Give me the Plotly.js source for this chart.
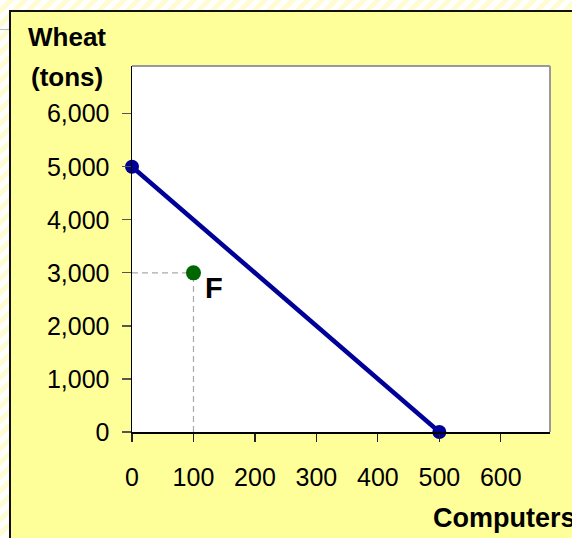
<!DOCTYPE html>
<html>
<head>
<meta charset="utf-8">
<script src="https://cdn.plot.ly/plotly-3.0.1.min.js"></script>
<style>
  html, body { margin: 0; padding: 0; width: 572px; height: 538px; overflow: hidden; }
  body {
    background: repeating-linear-gradient(135deg, #ffffff 0px, #ffffff 5px, #fffbd2 5px, #fffbd2 10px);
    position: relative;
  }
  #rule { position: absolute; left: 0; top: 29px; width: 9px; height: 1px; background: #bbbbbb; }
  #chart {
    position: absolute; left: 9px; top: 10px;
    width: 561px; height: 526px;
    border-left: 2px solid #111; border-top: 2px solid #111;
    background: #ffff99;
  }
</style>
</head>
<body>
<div id="rule"></div>
<div id="chart"></div>
<script>
// Production possibilities frontier
const computers = [0, 500];
const wheat = [5000, 0];

// Point F
const fComputers = [100];
const fWheat = [3000];
const fLabel = ["F"];

// Guide lines to point F
const guideHX = [0, 100];
const guideHY = [3000, 3000];
const guideVX = [100, 100];
const guideVY = [0, 3000];

const xTicks = [0, 100, 200, 300, 400, 500, 600];
const yTicks = [0, 1000, 2000, 3000, 4000, 5000, 6000];

const FONT = 'Arial, "Liberation Sans", sans-serif';

const traces = [
  { x: guideHX, y: guideHY, mode: 'lines', line: { color: '#aaaaaa', width: 1.2, dash: '6px,4px' }, hoverinfo: 'skip', showlegend: false, cliponaxis: false },
  { x: guideVX, y: guideVY, mode: 'lines', line: { color: '#aaaaaa', width: 1.2, dash: '6px,4px' }, hoverinfo: 'skip', showlegend: false, cliponaxis: false },
  { x: computers, y: wheat, mode: 'lines+markers', line: { color: '#000099', width: 4.5 },
    marker: { color: '#000099', size: 14 }, showlegend: false, cliponaxis: false },
  { x: fComputers, y: fWheat, mode: 'markers', marker: { color: '#006600', size: 15 }, showlegend: false, cliponaxis: false }
];

const layout = {
  width: 561, height: 526,
  margin: { l: 121, r: 22, t: 54, b: 106 },
  paper_bgcolor: '#ffff99',
  plot_bgcolor: '#ffffff',
  font: { family: FONT, color: '#000000', size: 25 },
  showlegend: false,
  xaxis: {
    range: [0, 680], tickvals: xTicks, ticktext: xTicks.map(String),
    showgrid: false, zeroline: false, showline: true, linecolor: '#000000', linewidth: 1.5,
    ticks: 'outside', ticklen: 8, tickcolor: '#222222', tickwidth: 1.2,
    tickfont: { family: FONT, size: 25, color: '#000000' }, ticklabelstandoff: 14,
    fixedrange: true
  },
  yaxis: {
    range: [0, 6900], tickvals: yTicks, tickformat: ',d',
    showgrid: false, zeroline: false, showline: true, linecolor: '#000000', linewidth: 1.5,
    ticks: 'outside', ticklen: 9, tickcolor: '#555555', tickwidth: 1.2,
    tickfont: { family: FONT, size: 25, color: '#000000' }, ticklabelstandoff: 7,
    fixedrange: true
  },
  shapes: [
    { type: 'line', xref: 'paper', yref: 'paper', x0: 0, x1: 1, y0: 1, y1: 1, line: { color: '#999999', width: 2 }, layer: 'below' },
    { type: 'line', xref: 'paper', yref: 'paper', x0: 1, x1: 1, y0: 0, y1: 1, line: { color: '#999999', width: 2 }, layer: 'below' }
  ],
  annotations: [
    { text: '<b>Wheat</b>', xref: 'paper', yref: 'paper', x: -0.156, y: 1.078, xanchor: 'center', yanchor: 'middle', showarrow: false, font: { family: FONT, size: 26, color: '#000' } },
    { text: '<b>(tons)</b>', xref: 'paper', yref: 'paper', x: -0.156, y: 0.97, xanchor: 'center', yanchor: 'middle', showarrow: false, font: { family: FONT, size: 26, color: '#000' } },
    { text: '<b>Computers</b>', xref: 'paper', yref: 'paper', x: 0.715, y: -0.235, xanchor: 'left', yanchor: 'middle', showarrow: false, font: { family: FONT, size: 27, color: '#000' } },
    { text: '<b>' + fLabel[0] + '</b>', xref: 'x', yref: 'y', x: 133, y: 2720, xanchor: 'center', yanchor: 'middle', showarrow: false, font: { family: FONT, size: 29, color: '#000' } }
  ]
};

Plotly.newPlot('chart', traces, layout, { displayModeBar: false, staticPlot: true });
</script>
</body>
</html>
